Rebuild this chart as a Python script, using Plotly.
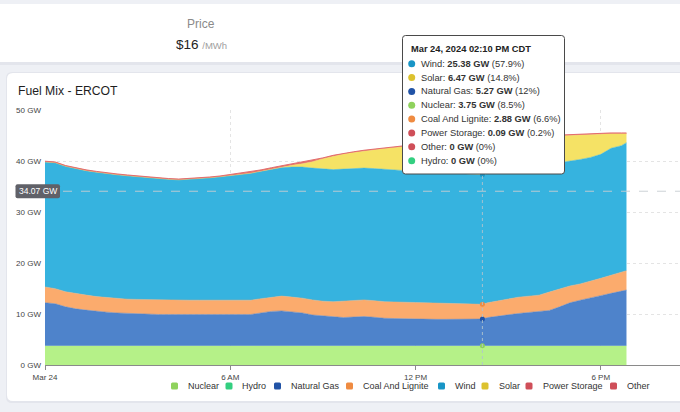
import numpy as np
import pandas as pd
import plotly.graph_objects as go

# ---------- data (GW, Mar 24 2024) ----------
times = [
    "00:00", "00:20", "00:40", "01:00", "01:20", "01:40", "02:00", "02:20", "02:40", "03:00",
    "03:20", "03:40", "04:00", "04:20", "04:40", "05:00", "05:20", "05:40", "06:00", "06:20",
    "06:40", "07:00", "07:20", "07:40", "08:00", "08:20", "08:40", "09:00", "09:20", "09:40",
    "10:00", "10:20", "10:40", "11:00", "11:20", "11:40", "12:00", "12:20", "12:40", "13:00",
    "13:20", "13:40", "14:00", "14:10", "14:20", "14:40", "15:00", "15:20", "15:40", "16:00",
    "16:20", "16:40", "17:00", "17:20", "17:40", "18:00", "18:20", "18:40", "18:50",
]
nuclear = [
    3.76, 3.76, 3.76, 3.76, 3.76, 3.76, 3.76, 3.76, 3.76, 3.76,
    3.76, 3.76, 3.76, 3.76, 3.76, 3.76, 3.76, 3.76, 3.76, 3.76,
    3.76, 3.76, 3.76, 3.76, 3.76, 3.76, 3.76, 3.76, 3.76, 3.76,
    3.76, 3.76, 3.76, 3.76, 3.76, 3.76, 3.75, 3.75, 3.75, 3.75,
    3.75, 3.75, 3.75, 3.75, 3.75, 3.75, 3.75, 3.75, 3.75, 3.75,
    3.75, 3.75, 3.75, 3.75, 3.75, 3.75, 3.75, 3.75, 3.75,
]
hydro = [
    0, 0, 0, 0, 0, 0, 0, 0, 0, 0,
    0, 0, 0, 0, 0, 0, 0, 0, 0, 0,
    0, 0, 0, 0, 0, 0, 0, 0, 0, 0,
    0, 0, 0, 0, 0, 0, 0, 0, 0, 0,
    0, 0, 0, 0, 0, 0, 0, 0, 0, 0,
    0, 0, 0, 0, 0, 0, 0, 0, 0,
]
natural_gas = [
    8.45, 8.25, 7.65, 7.25, 7.0, 6.75, 6.6, 6.45, 6.35, 6.25,
    6.2, 6.15, 6.15, 6.15, 6.15, 6.1, 6.1, 6.05, 6.05, 6.05,
    6.15, 6.45, 6.75, 6.85, 6.65, 6.45, 6.05, 5.85, 5.65, 5.55,
    5.65, 5.75, 5.6, 5.4, 5.35, 5.3, 5.2, 5.2, 5.2, 5.2,
    5.2, 5.25, 5.25, 5.27, 5.55, 5.85, 6.15, 6.35, 6.55, 6.7,
    6.95, 7.65, 8.45, 8.95, 9.35, 9.85, 10.3, 10.65, 10.95,
]
coal = [
    3.1, 2.95, 2.95, 2.95, 2.95, 2.9, 2.85, 2.8, 2.8, 2.85,
    2.85, 2.85, 2.85, 2.85, 2.8, 2.85, 2.85, 2.85, 2.8, 2.8,
    2.8, 2.8, 2.8, 2.9, 2.9, 2.9, 2.95, 2.9, 3.0, 3.25,
    3.25, 3.25, 3.25, 3.25, 3.25, 3.25, 3.35, 3.25, 3.2, 3.15,
    3.1, 3.0, 2.95, 2.88, 2.9, 3.0, 3.1, 3.2, 3.2, 3.25,
    3.6, 3.5, 3.3, 3.2, 3.3, 3.4, 3.55, 3.7, 3.8,
]
wind = [
    24.5, 24.7, 24.6, 24.5, 24.4, 24.4, 24.3, 24.3, 24.2, 24.05,
    23.9, 23.75, 23.65, 23.55, 23.7, 23.9, 24.0, 24.25, 24.5, 24.7,
    24.9, 25.0, 25.1, 25.2, 25.5, 25.7, 25.85, 26.0, 25.9, 25.85,
    25.85, 25.85, 25.9, 26.0, 25.95, 25.8, 25.6, 25.6, 25.45, 25.4,
    25.35, 25.35, 25.35, 25.38, 25.3, 25.2, 25.1, 25.1, 25.2, 25.3,
    25.1, 24.8, 24.5, 24.4, 24.3, 24.3, 24.9, 24.9, 25.1,
]
solar = [
    0, 0, 0, 0, 0, 0, 0, 0, 0, 0,
    0, 0, 0, 0, 0, 0, 0, 0, 0, 0,
    0, 0, 0.02, 0.1, 0.35, 0.65, 1.25, 1.95, 2.65, 2.95,
    3.15, 3.35, 3.7, 4.05, 4.35, 4.75, 5.2, 5.45, 5.8, 6.0,
    6.2, 6.3, 6.4, 6.47, 6.42, 6.32, 6.22, 6.12, 6.02, 5.82,
    5.45, 5.25, 5.05, 4.85, 4.55, 3.95, 2.85, 2.35, 1.75,
]
power_storage = [
    0.15, 0.15, 0.15, 0.15, 0.15, 0.15, 0.15, 0.15, 0.15, 0.15,
    0.15, 0.15, 0.15, 0.15, 0.15, 0.15, 0.15, 0.15, 0.25, 0.25,
    0.25, 0.25, 0.25, 0.25, 0.25, 0.25, 0.25, 0.15, 0.15, 0.15,
    0.15, 0.15, 0.15, 0.15, 0.15, 0.15, 0.1, 0.1, 0.1, 0.1,
    0.1, 0.1, 0.1, 0.09, 0.08, 0.08, 0.08, 0.08, 0.08, 0.08,
    0.15, 0.15, 0.15, 0.15, 0.15, 0.15, 0.15, 0.15, 0.15,
]
other = [
    0, 0, 0, 0, 0, 0, 0, 0, 0, 0,
    0, 0, 0, 0, 0, 0, 0, 0, 0, 0,
    0, 0, 0, 0, 0, 0, 0, 0, 0, 0,
    0, 0, 0, 0, 0, 0, 0, 0, 0, 0,
    0, 0, 0, 0, 0, 0, 0, 0, 0, 0,
    0, 0, 0, 0, 0, 0, 0, 0, 0,
]

fuel_names = ["Nuclear", "Hydro", "Natural Gas", "Coal And Lignite", "Wind", "Solar", "Power Storage", "Other"]
fuel_values = [nuclear, hydro, natural_gas, coal, wind, solar, power_storage, other]
fill_colors = ["#b5f188", "#55dd95", "#4e83cb", "#fbab6d", "#36b3df", "#f5e265", "#e36d6d", "#e36d6d"]
key_colors = ["#8fd25d", "#33cf80", "#2153a6", "#ef8b41", "#1895c6", "#dcc22f", "#cf4f59", "#cf4f59"]

x_ticks = ["2024-03-24 00:00", "2024-03-24 06:00", "2024-03-24 12:00", "2024-03-24 18:00"]
x_tick_labels = ["Mar 24", "6 AM", "12 PM", "6 PM"]
y_ticks = [0, 10, 20, 30, 40, 50]
y_tick_labels = ["0 GW", "10 GW", "20 GW", "30 GW", "40 GW", "50 GW"]

hover_time = "14:10"
hover_cursor_gw = 34.07
tip_order = ["Wind", "Solar", "Natural Gas", "Nuclear", "Coal And Lignite", "Power Storage", "Other", "Hydro"]
tip_pct = ["57.9%", "14.8%", "12%", "8.5%", "6.6%", "0.2%", "0%", "0%"]

price_label = "Price"
price_value = "$16"
price_unit = "/MWh"
chart_title = "Fuel Mix - ERCOT"

# ---------- layout helpers (pixel -> paper) ----------
W, H = 680, 412
ML, MR, MT, MB = 45, 0, 110, 47
FONT = "Liberation Sans, Arial, sans-serif"


def px(x):
    return (x - ML) / (W - ML - MR)


def py(y):
    return (H - MB - y) / (H - MT - MB)


def rrect(x0, y0, x1, y1, r):
    return (f"M{px(x0 + r)},{py(y0)} L{px(x1 - r)},{py(y0)} Q{px(x1)},{py(y0)} {px(x1)},{py(y0 + r)} "
            f"L{px(x1)},{py(y1 - r)} Q{px(x1)},{py(y1)} {px(x1 - r)},{py(y1)} L{px(x0 + r)},{py(y1)} "
            f"Q{px(x0)},{py(y1)} {px(x0)},{py(y1 - r)} L{px(x0)},{py(y0 + r)} Q{px(x0)},{py(y0)} {px(x0 + r)},{py(y0)} Z")


def label(x, y, text, size, color, anchor="center", bold=False):
    return dict(xref="paper", yref="paper", x=px(x), y=py(y), xanchor=anchor, yanchor="middle",
                text=f"<b>{text}</b>" if bold else text, showarrow=False,
                font=dict(family=FONT, size=size, color=color))


xs = pd.to_datetime(["2024-03-24 " + t for t in times])
hover_idx = times.index(hover_time)
hover_x = xs[hover_idx]

fig = go.Figure()

# ---------- stacked areas ----------
for name, vals, fill in zip(fuel_names, fuel_values, fill_colors):
    lw = 1 if name == "Power Storage" else (0 if name in ("Hydro", "Other") else 0.5)
    fig.add_trace(go.Scatter(
        x=xs, y=vals, name=name, mode="lines", stackgroup="fuel",
        line=dict(width=lw, color=fill), fillcolor=fill,
        showlegend=False, hoverinfo="skip",
    ))

# hover markers on the crosshair
stack_at_hover = np.cumsum([v[hover_idx] for v in fuel_values])
mark_idx = [0, 2, 3, 4, 5]
fig.add_trace(go.Scatter(
    x=[hover_x] * len(mark_idx), y=[stack_at_hover[i] for i in mark_idx],
    mode="markers", showlegend=False, hoverinfo="skip",
    marker=dict(size=5, color=[key_colors[i] for i in mark_idx]),
))

shapes = []
annotations = []

# ---------- cards ----------
shapes.append(dict(type="rect", xref="paper", yref="paper", layer="below",
                   x0=px(-5), x1=px(700), y0=py(5), y1=py(65),
                   fillcolor="rgba(30,40,70,0.05)", line=dict(width=0)))
shapes.append(dict(type="rect", xref="paper", yref="paper", layer="below",
                   x0=px(-5), x1=px(700), y0=py(4), y1=py(62),
                   fillcolor="white", line=dict(width=0)))
shapes.append(dict(type="path", xref="paper", yref="paper", layer="below",
                   path=rrect(6, 72, 710, 403, 6),
                   fillcolor="rgba(30,40,70,0.05)", line=dict(width=0)))
shapes.append(dict(type="path", xref="paper", yref="paper", layer="below",
                   path=rrect(7, 73, 710, 401, 6),
                   fillcolor="white", line=dict(width=0)))

# ---------- crosshair ----------
shapes.append(dict(type="line", xref="x", yref="paper", layer="above",
                   x0=hover_x, x1=hover_x, y0=0, y1=1,
                   line=dict(color="rgba(175,195,205,0.9)", width=1, dash="dot")))
shapes.append(dict(type="line", xref="paper", yref="y", layer="above",
                   x0=0, x1=1, y0=hover_cursor_gw, y1=hover_cursor_gw,
                   line=dict(color="rgba(200,205,210,0.9)", width=1, dash="dash")))
shapes.append(dict(type="path", xref="paper", yref="paper", layer="above",
                   path=rrect(15.5, 184.3, 60, 198.3, 2),
                   fillcolor="#606168", line=dict(width=0)))
annotations.append(label(37.8, 191.3, f"{hover_cursor_gw:.2f} GW", 8.5, "white"))

# ---------- tooltip ----------
shapes.append(dict(type="path", xref="paper", yref="paper", layer="above",
                   path=rrect(402.5, 35.5, 564.5, 174, 3),
                   fillcolor="white", line=dict(color="#4a4a4a", width=1)))
tip_title = hover_x.strftime("%b %d, %Y %I:%M %p") + " CDT"
annotations.append(label(408.5, 49.5, tip_title, 9.3, "#222", anchor="left", bold=True))
for i, (name, pct) in enumerate(zip(tip_order, tip_pct)):
    k = fuel_names.index(name)
    v = round(fuel_values[k][hover_idx], 2)
    yy = 63.7 + i * 13.85
    shapes.append(dict(type="circle", xref="paper", yref="paper", layer="above",
                       x0=px(408.2), x1=px(415.2), y0=py(yy - 3.5), y1=py(yy + 3.5),
                       fillcolor=key_colors[k], line=dict(width=0)))
    annotations.append(label(418.5, yy, f"{name}: <b>{v:g} GW</b> ({pct})", 9.3, "#333", anchor="left"))

# ---------- legend (bottom) ----------
legend_marker_x = [174.5, 229, 277.5, 349.5, 441.5, 485, 529, 613.5]
for name, color, mx in zip(fuel_names, key_colors, legend_marker_x):
    shapes.append(dict(type="path", xref="paper", yref="paper", layer="above",
                       path=rrect(mx - 3.5, 382.5, mx + 3.5, 389.5, 1.5),
                       fillcolor=color, line=dict(width=0)))
    annotations.append(label(mx + 11.5, 386, name, 9, "#333", anchor="left"))

# ---------- header texts ----------
annotations.append(label(201, 24, price_label, 12, "#8a8a8a"))
annotations.append(label(201, 44,
                         f"{price_value} <span style='font-size:9.5px;color:#a0a0a0'>{price_unit}</span>",
                         13.5, "#222"))
annotations.append(label(16, 91, chart_title, 12.2, "#1e1e1e", anchor="left"))

fig.update_layout(
    width=W, height=H,
    margin=dict(l=ML, r=MR, t=MT, b=MB),
    paper_bgcolor="#eef0f5",
    plot_bgcolor="white",
    showlegend=False,
    shapes=shapes,
    annotations=annotations,
    font=dict(family=FONT, size=8, color="#444"),
    xaxis=dict(
        type="date",
        range=["2024-03-24 00:00", "2024-03-24 20:34"],
        tickvals=x_ticks, ticktext=x_tick_labels,
        showgrid=True, gridcolor="#e4e4e4", griddash="dot",
        showline=True, linecolor="#8a8a8a", linewidth=1,
        ticks="outside", ticklen=4, tickcolor="#8a8a8a",
        tickfont=dict(family=FONT, size=8, color="#444"),
        zeroline=False, fixedrange=True,
    ),
    yaxis=dict(
        range=[0, 50],
        tickvals=y_ticks, ticktext=y_tick_labels,
        showgrid=True, gridcolor="#e4e4e4", griddash="dot",
        showline=False, zeroline=False, ticks="", ticklabelstandoff=3,
        tickfont=dict(family=FONT, size=8, color="#444"),
        fixedrange=True,
    ),
)

fig.write_html("out.html", config={"displayModeBar": False},
               post_script="document.body.style.margin='0';document.body.style.overflow='hidden';")
